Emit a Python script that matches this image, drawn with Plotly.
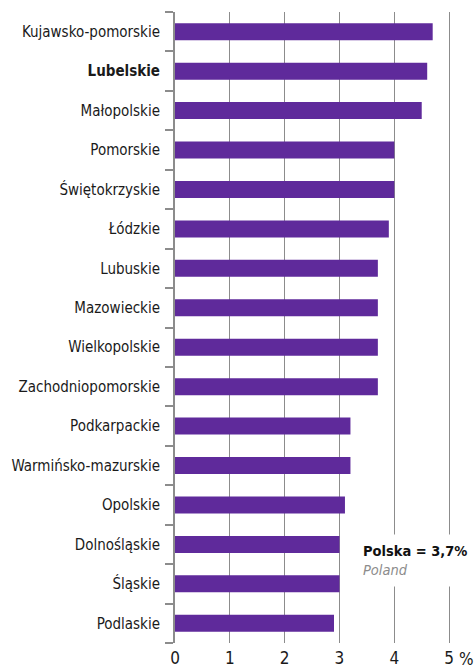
import plotly.graph_objects as go

regions = ["Kujawsko-pomorskie", "Lubelskie", "Małopolskie", "Pomorskie", "Świętokrzyskie",
           "Łódzkie", "Lubuskie", "Mazowieckie", "Wielkopolskie", "Zachodniopomorskie",
           "Podkarpackie", "Warmińsko-mazurskie", "Opolskie", "Dolnośląskie", "Śląskie", "Podlaskie"]
values = [4.7, 4.6, 4.5, 4.0, 4.0, 3.9, 3.7, 3.7, 3.7, 3.7, 3.2, 3.2, 3.1, 3.0, 3.0, 2.9]
x_ticks = [0, 1, 2, 3, 4, 5]
highlight = "Lubelskie"

FONT = "DejaVu Sans Condensed, Liberation Sans Narrow, sans-serif"
labels = [f"<b>{r}</b>" if r == highlight else r for r in regions]

def f(size, color="#1a1a1a"):
    return dict(family=FONT, size=size, color=color)

fig = go.Figure(go.Bar(
    y=labels, x=values, orientation="h",
    marker=dict(color="#5f2a9b", line=dict(width=0)),
    width=0.43,
))

fig.update_layout(
    width=476, height=668,
    margin=dict(l=175, r=0, t=12, b=25),
    paper_bgcolor="white", plot_bgcolor="white",
    font=f(15),
    showlegend=False,
    xaxis=dict(range=[0, 5.49], tickvals=x_ticks, ticktext=[str(t) for t in x_ticks],
               showgrid=True, gridcolor="#8c8c8c", gridwidth=1, zeroline=False,
               showline=False, ticks="", tickfont=f(17), automargin=False,
               ticklabelstandoff=3, fixedrange=True),
    yaxis=dict(categoryorder="array", categoryarray=labels[::-1], autorange=False,
               range=[-0.5, len(regions) - 0.5], automargin=False,
               showline=True, linecolor="#8c8c8c", linewidth=2,
               ticks="outside", tickson="boundaries", ticklen=8, tickcolor="#8c8c8c",
               tickwidth=1.5, ticklabelstandoff=10, showgrid=False,
               tickfont=f(15)),
    bargap=0.57,
)

fig.add_annotation(xref="paper", yref="paper", x=1.0, y=0, yanchor="top", xanchor="right",
                   text="%", showarrow=False, font=f(17), yshift=-4)

fig.add_annotation(x=3.27, y=1.58, xref="x", yref="y", xanchor="left", yanchor="middle",
                   text="<b>Polska = 3,7%</b><br><i><span style='color:#8c8c8c'>Poland</span></i>",
                   align="left", showarrow=False, bgcolor="white", borderpad=8,
                   font=f(14.5, "#111111"))

fig.write_html("out.html", config={"displayModeBar": False},
               post_script="document.body.style.margin='0px';")
